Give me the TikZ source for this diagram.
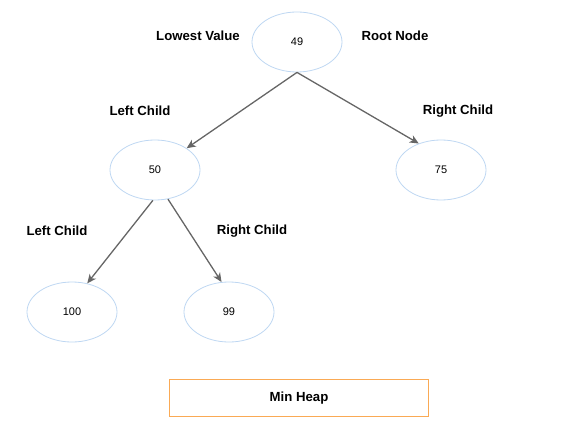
\documentclass[tikz,border=0pt]{standalone}
\usepackage{xcolor}
\usepackage{fontspec}
\setmainfont{Liberation Sans}
\usetikzlibrary{shapes,arrows,positioning,arrows.meta}

\definecolor{heapblue}{RGB}{190,215,242}
\definecolor{heaporange}{RGB}{250,170,85}
\definecolor{edgegray}{RGB}{102,102,102}

\begin{document}
\begin{tikzpicture}[x=1pt,y=-1pt,
    heapnode/.style={ellipse, draw=heapblue, line width=0.8pt, minimum width=90pt, minimum height=60pt, inner sep=0pt, font=\fontsize{11}{13}\selectfont},
    tag/.style={font=\bfseries\fontsize{13.2}{15}\selectfont},
    edge/.style={draw=edgegray, line width=1.3pt, -{Stealth[length=9pt,width=8pt,inset=2.5pt]}}]
    \useasboundingbox (0,0) rectangle (584,433);

    % Heap nodes
    \node[heapnode] (h49) at (297,42) {49};
    \node[heapnode] (h50) at (155,170) {50};
    \node[heapnode] (h75) at (441,170) {75};
    \node[heapnode] (h100) at (72,312) {100};
    \node[heapnode] (h99) at (229,312) {99};

    % Labels
    \node[tag] (lowest) at (198,36) {Lowest Value};
    \node[tag] (rootlbl) at (395,36) {Root Node};
    \node[tag] (left1) at (140,111) {Left Child};
    \node[tag] (right1) at (458,111) {Right Child};
    \node[tag] (left2) at (57,231) {Left Child};
    \node[tag] (right2) at (252,231) {Right Child};

    % Edges
    \draw[edge] (h49.south) -- (h50);
    \draw[edge] (h49.south) -- (h75.130);
    \draw[edge] (h50.266) -- (h100.62);
    \draw[edge] (h50.294) -- (h99.104);

    % Caption box
    \node[draw=heaporange, line width=0.8pt, minimum width=259pt, minimum height=37pt, tag] (caption) at (299,398) {Min Heap};
\end{tikzpicture}
\end{document}
